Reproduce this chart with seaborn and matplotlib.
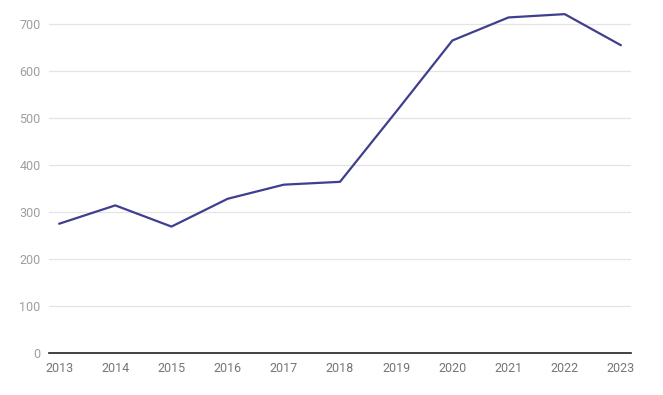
import pandas as pd
import matplotlib.pyplot as plt
import seaborn as sns
import matplotlib as mpl

sns.set_style("white")
mpl.rcParams["font.family"] = ["Roboto", "DejaVu Sans"]

years = [2013, 2014, 2015, 2016, 2017, 2018, 2019, 2020, 2021, 2022, 2023]
values = [275, 314, 269, 328, 358, 364, 513, 664, 713, 720, 654]
y_ticks = [0, 100, 200, 300, 400, 500, 600, 700]

df = pd.DataFrame({"year": years, "value": values})

fig = plt.figure(figsize=(6.63, 3.95), dpi=100)
ax = fig.add_axes([49 / 663, 41.7 / 395, 582 / 663, 353.3 / 395])

sns.lineplot(data=df, x="year", y="value", ax=ax, color="#3f3f8f", linewidth=1.6)

ax.set_xlim(2012.82, 2023.18)
ax.set_ylim(0, 750)
ax.set_xticks(years)
ax.set_yticks(y_ticks)
ax.set_xlabel("")
ax.set_ylabel("")

ax.grid(axis="y", color="#e4e4e4", linewidth=0.9)
ax.set_axisbelow(True)
for side in ["top", "right", "left"]:
    ax.spines[side].set_visible(False)
ax.spines["bottom"].set_color("#222222")
ax.spines["bottom"].set_linewidth(1.2)

ax.tick_params(axis="x", length=0, pad=6, labelsize=9, labelcolor="#757575")
ax.tick_params(axis="y", length=0, pad=6, labelsize=9, labelcolor="#9e9e9e")

fig.savefig("out.png", dpi=100)
plt.close(fig)
